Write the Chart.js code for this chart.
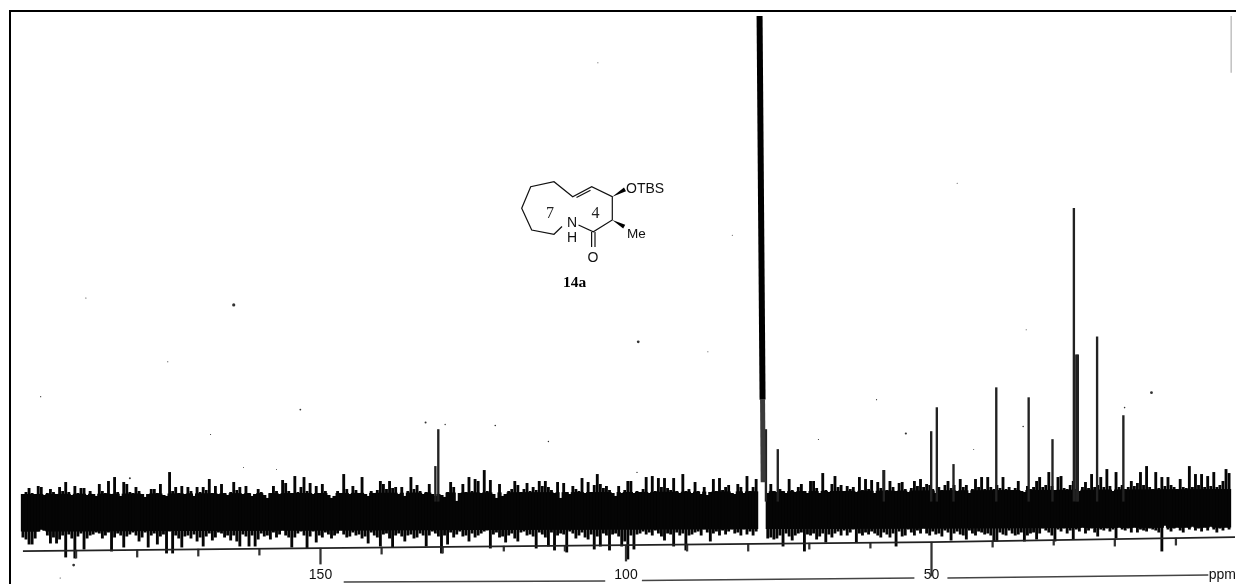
<!DOCTYPE html>
<html>
<head>
<meta charset="utf-8">
<title>14a carbon spectrum</title>
<script src="https://cdn.jsdelivr.net/npm/chart.js@4"></script>
<style>
html,body{margin:0;padding:0;background:#fff;overflow:hidden}
#wrap{position:relative;width:1236px;height:584px;overflow:hidden}
#frame{position:absolute;left:9px;top:10px;right:0;bottom:0;border-left:2px solid #000;border-top:2px solid #000;pointer-events:none}
#mol{position:absolute;left:0;top:0;pointer-events:none}
canvas{position:absolute;left:-3px;top:-3px}
</style>
</head>
<body>
<div id="wrap">
<canvas id="c" width="1242" height="590"></canvas>
<div id="frame"></div>
<svg id="mol" width="1236" height="584" xmlns="http://www.w3.org/2000/svg">
  <g fill="none" stroke="#111" stroke-width="1.2">
    <polyline points="578.5,225 593.3,231.7 612.3,220 612.3,196.7 591.7,186.7 572.7,196.7 554,181.7 530.7,186.7 521.7,208.3 531.7,230 554,234.3 562,226.5"/>
    <line x1="576.5" y1="197.5" x2="590.5" y2="190.3"/>
    <line x1="591.6" y1="232" x2="591.6" y2="247"/>
    <line x1="595" y1="232" x2="595" y2="247"/>
  </g>
  <polygon points="612.3,196.7 624,187.6 626,191.2" fill="#000"/>
  <polygon points="612.3,220 625.2,224.8 623.2,228.6" fill="#000"/>
  <g font-family="'Liberation Sans',Arial,sans-serif" font-size="14" fill="#111">
    <text x="626" y="192.5">OTBS</text>
    <text x="627" y="237.5" font-size="13.5">Me</text>
    <text x="572" y="227" text-anchor="middle">N</text>
    <text x="572" y="242" text-anchor="middle">H</text>
    <text x="593" y="262" text-anchor="middle">O</text>
  </g>
  <g font-family="'Liberation Serif','Times New Roman',serif" font-size="16" fill="#222">
    <text x="550" y="218" text-anchor="middle">7</text>
    <text x="595.5" y="218" text-anchor="middle">4</text>
    <text x="574.5" y="287" text-anchor="middle" font-weight="bold" fill="#000" font-size="15.5">14a</text>
  </g>
</svg>
</div>
<script>
// chemical shift grid for the recorded trace (ppm)
const leftStartPpm = 198.7;
const rightStartPpm = 76.8;
const gridStepPpm = 0.5;

// upper and lower envelope of the noise trace, left of the solvent gap
const leftHigh = [17,19,23,18,17,25,24,16,18,22,19,17,24,20,29,19,16,25,18,23,23,16,20,17,15,27,20,18,30,17,34,19,15,29,27,19,18,24,20,17,14,17,22,22,18,27,16,15,39,20,24,18,25,17,24,20,15,24,19,24,21,32,18,25,17,
27,18,16,19,29,21,24,17,25,18,15,17,22,19,16,13,18,25,20,17,31,28,20,18,35,19,24,34,20,28,17,25,18,27,20,16,13,15,20,18,37,22,17,25,21,18,34,17,15,20,18,21,30,27,22,30,23,24,17,24,15,20,34,22,26,20,17,19,
27,17,15,17,16,14,19,29,24,10,18,27,19,34,20,32,30,18,41,20,31,17,13,27,15,17,20,22,30,26,19,22,28,20,24,21,30,25,30,24,21,18,29,13,28,19,17,25,22,20,33,18,29,19,26,37,27,23,25,21,18,15,25,18,21,30,
30,18,20,19,22,34,18,35,20,33,24,33,23,21,33,20,18,37,20,22,18,29,20,17,24,16,19,32,20,33,21,24,26,18,17,27,24,18,35,20,24,32];
const leftLow = [-26,-28,-33,-33,-27,-20,-18,-19,-24,-32,-26,-32,-28,-24,-46,-23,-27,-47,-25,-22,-38,-27,-24,-23,-21,-22,-27,-24,-21,-40,-26,-22,-24,-36,-25,-23,-21,-24,-30,-26,-21,-36,-24,-22,-33,-25,-23,-42,-20,-42,-24,-27,-36,-25,-24,-27,-23,-30,-26,-35,-25,-22,-29,-26,-21,
-22,-26,-24,-29,-24,-30,-35,-23,-25,-35,-24,-35,-28,-22,-25,-24,-28,-21,-26,-23,-19,-24,-26,-36,-26,-22,-20,-24,-37,-25,-20,-31,-24,-26,-21,-23,-27,-24,-22,-19,-23,-26,-25,-21,-24,-23,-27,-25,-32,-21,-24,-26,-35,-23,-22,-27,-36,-24,-22,-25,-30,-24,-23,-27,-26,-22,-24,-35,
-24,-20,-22,-25,-42,-24,-33,-21,-26,-23,-20,-25,-24,-30,-22,-26,-24,-22,-20,-19,-37,-23,-21,-26,-25,-31,-24,-22,-27,-30,-21,-20,-24,-23,-25,-37,-21,-23,-26,-35,-21,-39,-24,-22,-23,-41,-20,-22,-27,-24,-21,-26,-28,-23,-38,-25,-35,-22,-24,-39,-23,-22,-25,-35,-30,-48,
-24,-38,-23,-22,-20,-23,-21,-24,-19,-22,-25,-29,-22,-23,-35,-21,-24,-22,-39,-24,-23,-21,-20,-24,-18,-21,-30,-22,-20,-24,-19,-23,-20,-18,-22,-21,-24,-18,-23,-20,-24,-20];

// upper and lower envelope of the noise trace, right of the solvent gap
const rightHigh = [18,27,20,19,22,20,18,32,21,19,24,27,20,18,30,30,23,18,38,21,19,27,
35,24,26,20,25,22,24,19,34,21,32,22,31,18,29,23,41,21,30,24,20,28,29,22,19,23,30,25,32,24,27,26,22,18,24,21,26,30,23,26,20,32,24,26,18,22,32,24,34,22,34,24,22,26,23,34,22,24,21,23,30,20,19,25,22,24,30,
34,24,26,39,25,21,34,35,23,22,26,30,22,20,24,29,23,37,24,26,34,24,42,25,20,39,24,26,22,24,30,25,28,39,26,45,24,22,39,23,34,25,34,26,24,22,32,24,23,45,24,37,26,37,24,35,25,39,24,26,30,42,38];
const rightLow = [-27,-26,-28,-27,-24,-35,-22,-25,-29,-24,-22,-21,-40,-23,-24,-22,-28,-25,-22,-31,-23,-26,
-22,-20,-24,-19,-24,-21,-18,-31,-22,-24,-21,-23,-20,-22,-24,-26,-21,-23,-26,-22,-35,-20,-25,-24,-18,-21,-24,-19,-22,-17,-22,-24,-20,-23,-22,-25,-19,-21,-29,-22,-20,-23,-24,-28,-19,-22,-24,-20,-21,-23,-22,-24,-30,-30,-21,-23,-24,-19,-22,-24,-23,-21,-30,-24,-22,-21,-28,
-22,-17,-19,-21,-24,-30,-18,-20,-17,-22,-19,-28,-18,-20,-16,-22,-19,-17,-21,-25,-18,-19,-17,-20,-18,-27,-16,-18,-19,-17,-21,-16,-21,-18,-19,-20,-17,-18,-19,-21,-40,-14,-18,-20,-17,-16,-19,-21,-16,-18,-15,-19,-17,-20,-16,-19,-15,-18,-21,-17,-19,-16,-18];

// solid core edges of the noise band along the spectrum
const coreEdgePpm = [198.7, 100, 0.8];
const coreEdgeHigh = [17, 19, 22];
const coreEdgeLow = [-20, -18, -16];

// resolved peaks
const peakPpm = [131.2,130.72,77.1,75.16,57.8,50.05,49.13,46.4,39.4,34.1,30.2,26.7,26.3,26.05,22.9,18.6];
const peakHeight = [45,82,82,62,41,80,104,47,124,114,72,304,157,157,175,96];

// solvent peak, its trace leans with the scan
const solventPpm = [78.14,77.65];
const solventHeight = [497,112];
const solventFootPpm = [77.65,77.55];
const solventFootHeight = [112,29];

// axis line, drawn crooked in the scan
const axisPpm = [198.7,150,100,50,0.3];
const axisLevel = [-40,-37,-34,-31,-26];
const tickPpm = [190,180,170,160,150,140,130,120,110,100,90,80,70,60,50,40,30,20,10];
const tickTop = [-39,-39,-38,-38,-37,-36,-36,-35,-35,-34,-33,-33,-32,-32,-31,-30,-29,-28,-27];
const tickBottom = [-47,-46,-45,-44,-53,-43,-42,-40,-40,-50,-40,-40,-38,-37,-65,-36,-34,-35,-34];

// second ruled line under the tick labels
const lowerPpm = [146.2,103.4,100,97.4,52.8,50,47.4,4.7];
const lowerLevel = [-71,-70,null,-69.5,-67,null,-67,-64];

// axis labels
const labelPpm = [150,100,50,2.4];
const labelText = ['150','100','50','ppm'];

// right edge scan mark
const edgePpm = [0.95,0.95];
const edgeLevel = [497,440];

// scan specks
const speckPpm = [164.2,98,188.4,195.8,175,168,153.3,132.8,129.6,121.4,112.7,98.2,68.5,54.2,43.1,59,14,18.4,35,104.6,86.6,34.5,45.8,82.6,181.2,190.4,192.6,162.6,157.2];
const speckHeight = [207,170,214,115,150,77,102,89,87,86,70,39,72,78,62,112,119,104,85,450,160,182,329,277,33,-54,-67,44,42];
const speckSize = [1.6,1.4,.6,.6,.6,.6,.9,1,.7,.8,.7,.7,.6,1.1,.5,.6,1.4,.8,.8,.5,.5,.5,.5,.5,1,1.4,.6,.5,.5];

const edge = (p, arr) => {
  for (let k = 0; k < coreEdgePpm.length - 1; k++) {
    if (p <= coreEdgePpm[k] && p >= coreEdgePpm[k + 1]) {
      const f = (coreEdgePpm[k] - p) / (coreEdgePpm[k] - coreEdgePpm[k + 1]);
      return arr[k] + (arr[k + 1] - arr[k]) * f;
    }
  }
  return arr[arr.length - 1];
};
const trace = [];
const core = [];
function addSegment(start, hi, lo) {
  hi.forEach((h, i) => {
    const p = start - i * gridStepPpm;
    const l = lo[i];
    trace.push({x: p, y: [l, h]});
    core.push({x: p, y: [Math.max(l, edge(p, coreEdgeLow)), Math.min(h, edge(p, coreEdgeHigh))]});
  });
}
addSegment(leftStartPpm, leftHigh, leftLow);
addSegment(rightStartPpm, rightHigh, rightLow);

const zip = (xs, ys) => xs.map((x, i) => ({x, y: ys[i]}));
const ink = '#050505';

new Chart(document.getElementById('c'), {
  type: 'bar',
  data: {
    datasets: [
      {label: 'noise core', data: core, backgroundColor: ink, barThickness: 3.5, grouped: false, order: 5},
      {label: 'noise trace', data: trace, backgroundColor: ink, barThickness: 2.2, grouped: false, order: 4},
      {label: 'peaks', data: peakPpm.map((p, i) => ({x: p, y: [10, peakHeight[i]]})), backgroundColor: '#222', barThickness: 1.7, grouped: false, order: 3},
      {label: 'ticks', data: tickPpm.map((p, i) => ({x: p, y: [tickBottom[i], tickTop[i]]})), backgroundColor: '#333', barThickness: 1.6, grouped: false, order: 3},
      {type: 'line', label: 'solvent', data: zip(solventPpm, solventHeight), borderColor: '#000', borderWidth: 6, borderCapStyle: 'butt', pointRadius: 0, order: 2},
      {type: 'line', label: 'solvent foot', data: zip(solventFootPpm, solventFootHeight), borderColor: '#3a3a3a', borderWidth: 5, borderCapStyle: 'butt', pointRadius: 0, order: 2},
      {type: 'line', label: 'axis', data: zip(axisPpm, axisLevel), borderColor: '#222', borderWidth: 1.6, pointRadius: 0, order: 2},
      {type: 'line', label: 'lower rule', data: zip(lowerPpm, lowerLevel), borderColor: '#444', borderWidth: 1.4, pointRadius: 0, spanGaps: false, order: 2},
      {type: 'line', label: 'edge', data: zip(edgePpm, edgeLevel), borderColor: '#c4c4c4', borderWidth: 1.6, pointRadius: 0, order: 2},
      {type: 'scatter', label: 'specks', data: zip(speckPpm, speckHeight), showLine: false, backgroundColor: '#333', borderWidth: 0, pointRadius: speckSize, order: 1}
    ]
  },
  options: {
    responsive: false,
    animation: false,
    layout: {padding: 0},
    plugins: {legend: {display: false}, tooltip: {enabled: false}},
    scales: {
      x: {
        type: 'linear',
        reverse: true,
        offset: false,
        min: 0.33,
        max: 202.29,
        position: {y: -54},
        grid: {display: false, drawTicks: false},
        border: {display: false},
        afterBuildTicks: axis => { axis.ticks = labelPpm.map(v => ({value: v})); },
        ticks: {
          autoSkip: false,
          maxRotation: 0,
          padding: 2,
          color: '#111',
          font: {family: "'Liberation Sans',Arial,sans-serif", size: 14},
          callback: v => labelText[labelPpm.indexOf(v)]
        }
      },
      y: {type: 'linear', display: false, min: -72, max: 512}
    }
  }
});
</script>
</body>
</html>
